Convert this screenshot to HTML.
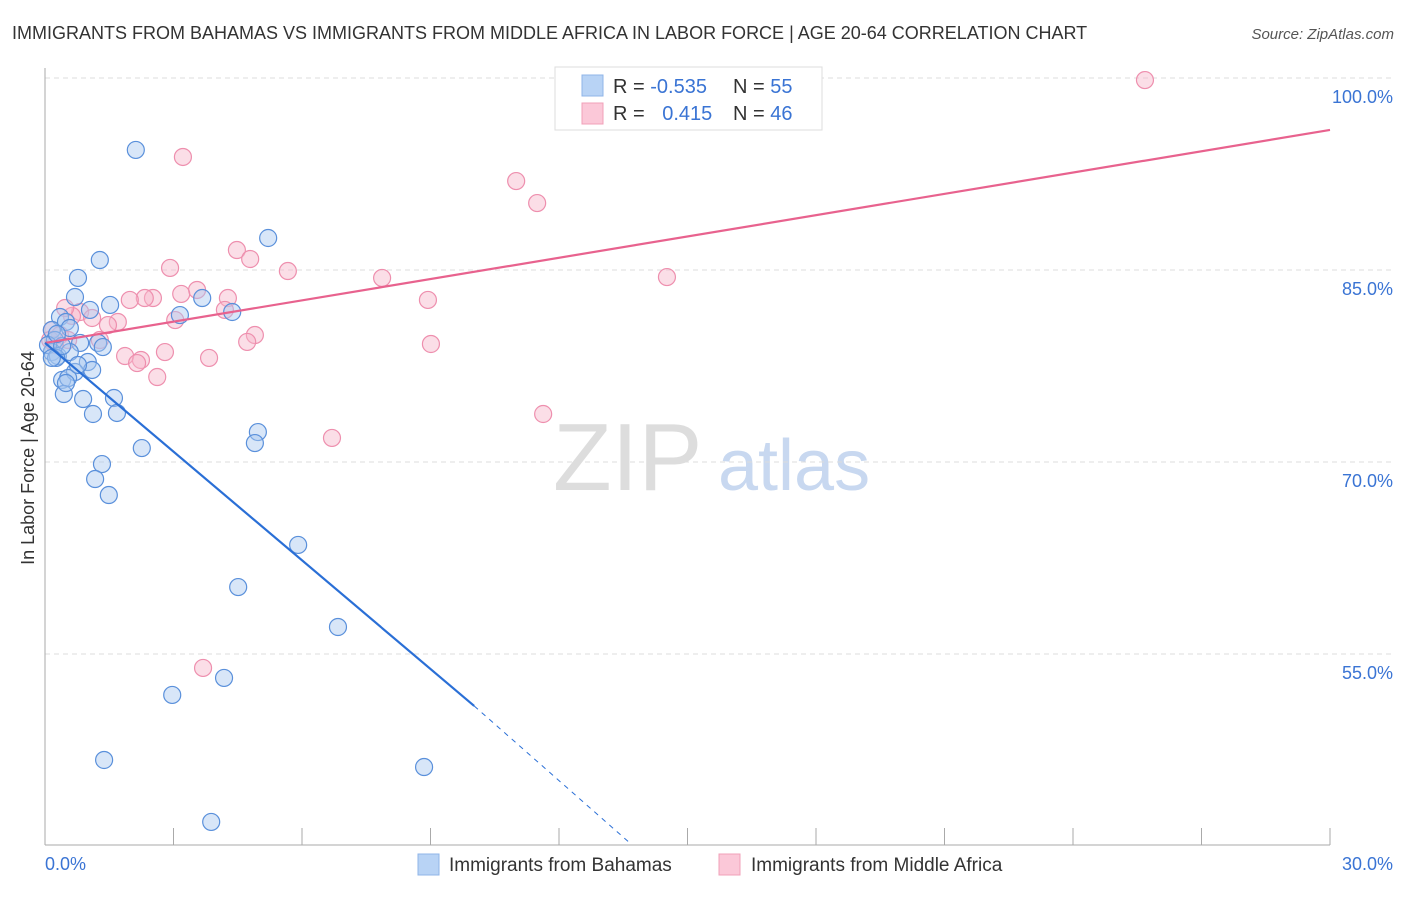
<!DOCTYPE html>
<html><head><meta charset="utf-8"><style>
body{margin:0;background:#fff;font-family:"Liberation Sans",sans-serif;}
svg text{font-family:"Liberation Sans",sans-serif;}
</style></head><body>
<svg id="chart" width="1406" height="892" xmlns="http://www.w3.org/2000/svg">
<text x="12" y="39" font-size="18" fill="#333">IMMIGRANTS FROM BAHAMAS VS IMMIGRANTS FROM MIDDLE AFRICA IN LABOR FORCE | AGE 20-64 CORRELATION CHART</text>
<text x="1394" y="39" font-size="15" fill="#555" font-style="italic" text-anchor="end">Source: ZipAtlas.com</text>
<g>
<text x="553" y="490" font-size="96" fill="#ddd" font-family="Liberation Serif">ZIP</text>
<text x="718" y="490" font-size="72" fill="#c8d8f0">atlas</text>
</g>
<g id="grid"></g>
<g id="axes"></g>
<g id="marks"></g>
<text transform="translate(34,458) rotate(-90)" font-size="18" fill="#333" text-anchor="middle">In Labor Force | Age 20-64</text>
<g>
<rect x="555" y="67" width="267" height="63" fill="#fff" stroke="#ddd"/>
<rect x="582" y="75" width="21" height="21" fill="#b8d3f5" stroke="#8fb4e8"/>
<rect x="582" y="103" width="21" height="21" fill="#fbc8d8" stroke="#f0a0b8"/>
<text x="613" y="93" font-size="20" fill="#333">R = <tspan fill="#3a74d4">-0.535</tspan></text>
<text x="733" y="93" font-size="20" fill="#333">N = <tspan fill="#3a74d4">55</tspan></text>
<text x="613" y="120" font-size="20" fill="#333">R = <tspan fill="#3a74d4" dx="12">0.415</tspan></text>
<text x="733" y="120" font-size="20" fill="#333">N = <tspan fill="#3a74d4">46</tspan></text>
</g>
<g>
<rect x="418" y="854" width="21" height="21" fill="#b8d3f5" stroke="#8fb4e8"/>
<text x="449" y="871" font-size="19" fill="#333">Immigrants from Bahamas</text>
<rect x="719" y="854" width="21" height="21" fill="#fbc8d8" stroke="#f0a0b8"/>
<text x="751" y="871" font-size="19" fill="#333">Immigrants from Middle Africa</text>
</g>
</svg>
<script>
const blueX=[2.12,1.28,5.21,0.77,0.70,1.52,1.05,0.35,0.49,3.15,3.67,4.37,0.16,0.58,0.23,0.82,1.24,1.35,0.16,0.30,0.58,1.00,1.10,0.40,0.70,0.54,0.44,0.89,1.61,1.68,1.12,2.26,4.97,4.90,1.33,1.17,1.49,5.91,4.51,6.84,2.97,4.18,1.38,8.85,3.88,0.07,0.26,0.40,0.16,0.28,0.77,0.49];
const blueY=[94.38,85.78,87.5,84.38,82.89,82.27,81.88,81.33,80.94,81.48,82.81,81.72,80.31,80.47,79.53,79.30,79.30,78.98,78.59,78.28,78.59,77.81,77.19,76.41,77.03,76.56,75.31,74.92,75.0,73.83,73.75,71.09,72.34,71.48,69.84,68.67,67.42,63.52,60.23,57.11,51.8,53.13,46.72,46.17,41.88,79.14,78.13,79.06,78.13,80.0,77.58,76.17];
const pinkX=[25.68,3.22,11.0,11.49,4.48,4.79,2.92,5.67,7.87,14.52,3.55,3.18,2.52,2.33,1.98,4.27,8.94,4.20,3.04,0.82,1.10,1.70,1.47,4.90,4.72,1.28,9.01,2.80,1.87,2.24,2.15,3.83,2.62,11.63,6.70,3.69,0.16,0.35,0.54,0.23,0.63,0.47,0.12];
const pinkY=[99.84,93.83,91.95,90.23,86.56,85.86,85.16,84.92,84.38,84.45,83.44,83.13,82.81,82.81,82.66,82.81,82.66,81.88,81.09,81.72,81.25,80.94,80.70,79.92,79.38,79.53,79.22,78.59,78.28,77.97,77.73,78.13,76.64,73.75,71.88,53.91,80.31,79.92,79.53,79.14,81.41,82.03,79.53];
const yTicks=[100,85,70,55];
const yTickLabels=["100.0%","85.0%","70.0%","55.0%"];
const xTicks=[0,3,6,9,12,15,18,21,24,27,30];
const xEndLabels=["0.0%","30.0%"];
const blueTrend=[[0,79.3],[10.02,50.94],[13.7,40.1]];
const pinkTrend=[[0,79.3],[30,95.94]];
const X0=45,X1=1330,Y100=78,PPU=12.8,YBOT=845;
const sx=v=>X0+v/30*(X1-X0);
const sy=v=>Y100+(100-v)*PPU;
const NS="http://www.w3.org/2000/svg";
function mk(tag,attrs,parent){const e=document.createElementNS(NS,tag);for(const k in attrs)e.setAttribute(k,attrs[k]);parent.appendChild(e);return e;}
const grid=document.getElementById('grid'),axes=document.getElementById('axes'),marks=document.getElementById('marks');
yTicks.forEach((t,i)=>{
 const l=mk('line',{x1:X0,x2:1393,y1:sy(t),y2:sy(t),stroke:'#ddd','stroke-dasharray':'5,4'},grid);
 
 
 const tx=mk('text',{x:1393,y:sy(t)+25,'font-size':18,fill:'#3a74d4','text-anchor':'end'},axes);
 tx.textContent=yTickLabels[i];
 
 
});
const ya=mk('line',{x1:X0,x2:X0,y1:68,y2:YBOT,stroke:'#aaa'},axes);


const xa=mk('line',{x1:X0,x2:X1,y1:YBOT,y2:YBOT,stroke:'#aaa'},axes);


xTicks.forEach(t=>{
 const l=mk('line',{x1:sx(t),x2:sx(t),y1:828,y2:YBOT,stroke:'#aaa'},axes);
 
 
});
const xl0=mk('text',{x:45,y:870,'font-size':18,fill:'#3a74d4'},axes);
xl0.textContent=xEndLabels[0];


const xl1=mk('text',{x:1393,y:870,'font-size':18,fill:'#3a74d4','text-anchor':'end'},axes);
xl1.textContent=xEndLabels[1];


function pts(xs,ys,fill,stroke,name){xs.forEach((x,i)=>{
 const c=mk('circle',{cx:sx(x),cy:sy(ys[i]),r:8.5,fill:fill,'fill-opacity':0.45,stroke:stroke,'stroke-width':1.2},marks);
 
 
});}
pts(pinkX,pinkY,'#f7b6ca','#ee8fae','point-middle-africa');
pts(blueX,blueY,'#a9c8f0','#5a90db','point-bahamas');
const pl=mk('line',{x1:sx(pinkTrend[0][0]),y1:sy(pinkTrend[0][1]),x2:sx(pinkTrend[1][0]),y2:sy(pinkTrend[1][1]),stroke:'#e8628e','stroke-width':2.2},marks);


const bl=mk('line',{x1:sx(blueTrend[0][0]),y1:sy(blueTrend[0][1]),x2:sx(blueTrend[1][0]),y2:sy(blueTrend[1][1]),stroke:'#2a6fd6','stroke-width':2.2},marks);


const bd=mk('line',{x1:sx(blueTrend[1][0]),y1:sy(blueTrend[1][1]),x2:sx(blueTrend[2][0]),y2:sy(blueTrend[2][1]),stroke:'#2a6fd6','stroke-width':1,'stroke-dasharray':'5,5'},marks);


</script>
</body></html>
